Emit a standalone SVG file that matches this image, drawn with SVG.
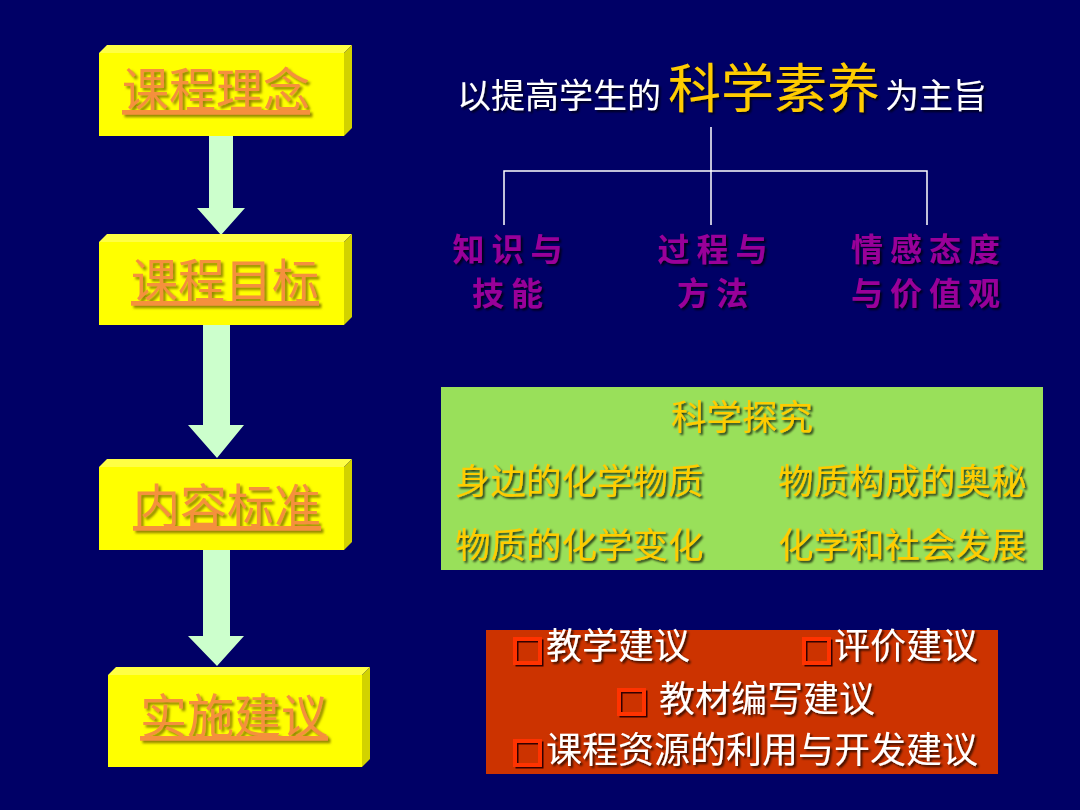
<svg xmlns="http://www.w3.org/2000/svg" width="1080" height="810" viewBox="0 0 1080 810">
<defs>
<filter id="sh" x="-10%" y="-20%" width="130%" height="150%">
<feDropShadow dx="2" dy="2" stdDeviation="0.8" flood-color="#000000" flood-opacity="0.75"/>
</filter>
<filter id="shs" x="-10%" y="-20%" width="130%" height="150%">
<feDropShadow dx="2.5" dy="2.5" stdDeviation="1.2" flood-color="#7a6a00" flood-opacity="0.8"/>
</filter>
<style>
.cjk{font-family:"Noto Sans CJK SC","Noto Sans",sans-serif}
.face{fill:#ffff00}
.top{fill:#ffff44}
.side{fill:#d2d200}
.bt{font-size:47px;fill:#f5903c;text-decoration:underline;text-anchor:middle;filter:url(#shs)}
.arrow{fill:#ccffcc}
.pur{font-size:32px;fill:#990099;font-weight:bold;text-anchor:middle;letter-spacing:7px;filter:url(#sh)}
.yt{font-size:35.5px;fill:#ffcc00;filter:url(#sh)}
.wt{font-size:36px;fill:#ffffff;filter:url(#sh)}
.cb{fill:none;stroke:#ff3300;stroke-width:4}
.cbs{fill:none;stroke:#330000;stroke-width:3}
.ln{stroke:#ffffff;stroke-width:1.5;fill:none}
</style>
</defs>
<rect width="1080" height="810" fill="#000066"/>

<g id="connectors">
<polygon class="arrow" points="209,135 233,135 233,208 245,208 221,235 197,208 209,208"/>
<polygon class="arrow" points="203,325 230,325 230,425 244,425 217,458 188,425 203,425"/>
<polygon class="arrow" points="203,550 230,550 230,636 244,636 217,666 188,636 203,636"/>
<path class="ln" d="M711,127 V225 M504,225 V171 H927 V225"/>
</g>

<g id="node-linian">
<polygon class="top" points="99,53 107,45 352,45 344,53"/>
<polygon class="side" points="344,53 352,45 352,128 344,136"/>
<rect class="face" x="99" y="53" width="245" height="83"/>
<text class="cjk bt" x="216" y="107">课程理念</text>
</g>

<g id="node-mubiao">
<polygon class="top" points="99,242 107,234 352,234 344,242"/>
<polygon class="side" points="344,242 352,234 352,317 344,325"/>
<rect class="face" x="99" y="242" width="245" height="83"/>
<text class="cjk bt" x="225" y="298">课程目标</text>
</g>

<g id="node-biaozhun">
<polygon class="top" points="99,467 107,459 352,459 344,467"/>
<polygon class="side" points="344,467 352,459 352,542 344,550"/>
<rect class="face" x="99" y="467" width="245" height="83"/>
<text class="cjk bt" x="227" y="523">内容标准</text>
</g>

<g id="node-jianyi">
<polygon class="top" points="108,675 116,667 370,667 362,675"/>
<polygon class="side" points="362,675 370,667 370,759 362,767"/>
<rect class="face" x="108" y="675" width="254" height="92"/>
<text class="cjk bt" x="234" y="733">实施建议</text>
</g>

<g id="node-title">
<text class="cjk" y="108" filter="url(#sh)"><tspan x="457" font-size="34" fill="#ffffff">以提高学生的</tspan><tspan x="668" font-size="53" fill="#ffcc00">科学素养</tspan><tspan x="885" font-size="34" fill="#ffffff">为主旨</tspan></text>
</g>

<g id="node-zhishi">
<text class="cjk pur" x="511" y="261">知识与</text>
<text class="cjk pur" x="511" y="305">技能</text>
</g>
<g id="node-guocheng">
<text class="cjk pur" x="716" y="261">过程与</text>
<text class="cjk pur" x="716" y="305">方法</text>
</g>
<g id="node-qinggan">
<text class="cjk pur" x="929" y="261">情感态度</text>
<text class="cjk pur" x="929" y="305">与价值观</text>
</g>

<g id="node-content">
<rect x="441" y="387" width="602" height="183" fill="#99e05a"/>
<text class="cjk yt" x="742" y="430" text-anchor="middle">科学探究</text>
<text class="cjk yt" x="455" y="494">身边的化学物质</text>
<text class="cjk yt" x="778" y="494">物质构成的奥秘</text>
<text class="cjk yt" x="455" y="558">物质的化学变化</text>
<text class="cjk yt" x="778" y="558">化学和社会发展</text>
</g>

<g id="node-suggestions">
<rect x="486" y="630" width="512" height="144" fill="#cc3300"/>
<rect class="cbs" x="517" y="641" width="25" height="24"/>
<rect class="cb" x="515" y="639" width="25" height="24"/>
<rect class="cbs" x="806" y="641" width="25" height="24"/>
<rect class="cb" x="804" y="639" width="25" height="24"/>
<rect class="cbs" x="621" y="692" width="25" height="24"/>
<rect class="cb" x="619" y="690" width="25" height="24"/>
<rect class="cbs" x="517" y="743" width="25" height="24"/>
<rect class="cb" x="515" y="741" width="25" height="24"/>
<text class="cjk wt" x="546" y="659">教学建议</text>
<text class="cjk wt" x="834" y="659">评价建议</text>
<text class="cjk wt" x="659" y="712">教材编写建议</text>
<text class="cjk wt" x="546" y="763">课程资源的利用与开发建议</text>
</g>
</svg>
